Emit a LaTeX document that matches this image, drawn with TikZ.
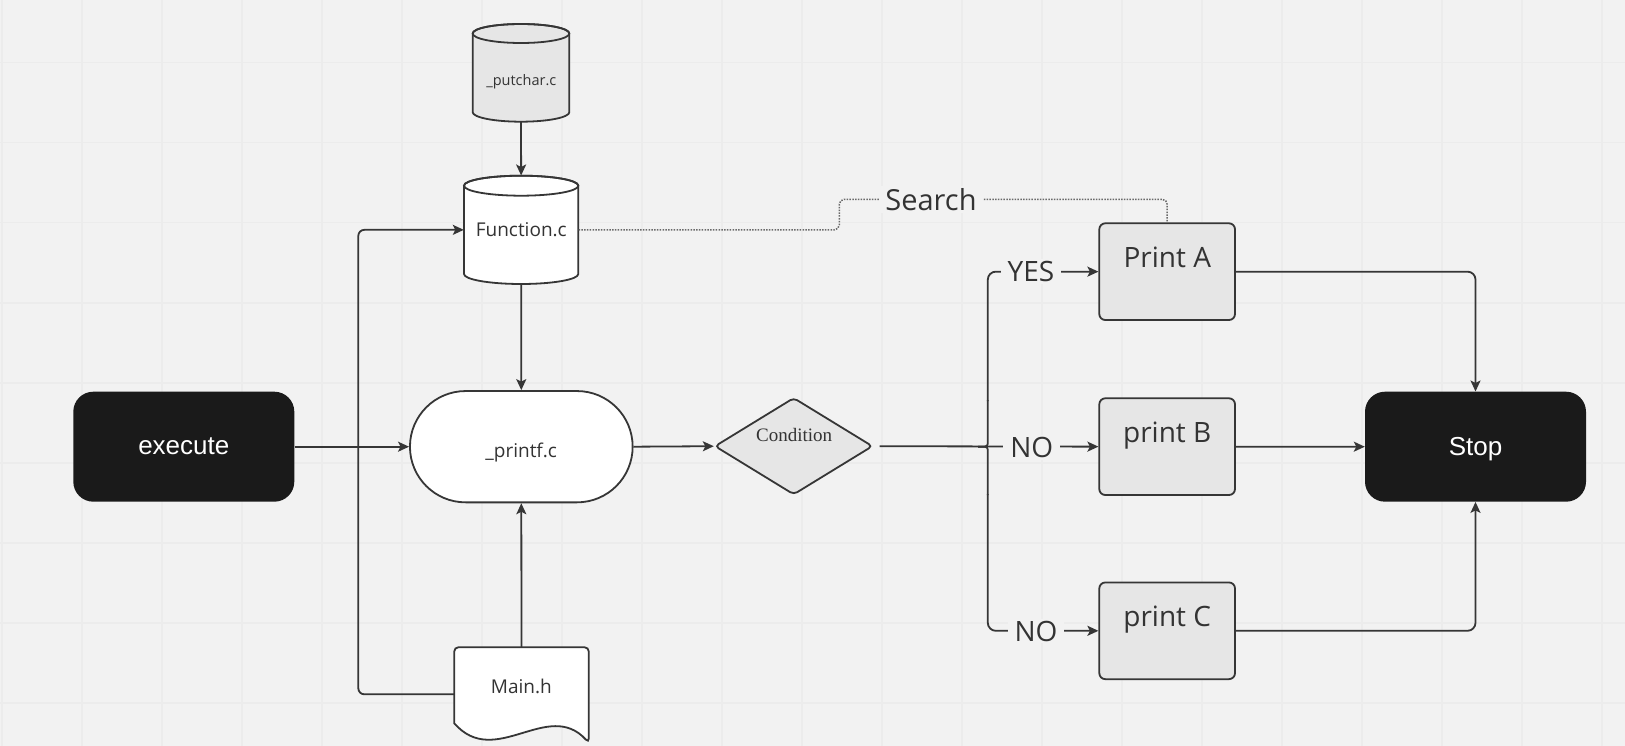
\documentclass[tikz,border=0pt]{standalone}
\usepackage{fontspec}
\setmainfont{Open Sans}
\newfontfamily\arialf{Liberation Sans}
\newfontfamily\timesf{Liberation Serif}
\usetikzlibrary{arrows.meta,shapes.geometric,shapes.misc,calc}
\definecolor{bg}{HTML}{F2F2F2}
\definecolor{gridc}{HTML}{ECECEC}
\definecolor{lc}{HTML}{363636}
\definecolor{boxf}{HTML}{E6E6E6}
\definecolor{blk}{HTML}{1A1A1A}
\definecolor{txt}{HTML}{333333}
\definecolor{dotc}{HTML}{6A6A6A}
\begin{document}
\begin{tikzpicture}[x=1pt,y=-1pt,
  conn/.style={draw=lc, line width=1.8pt, -{Stealth[length=11pt,width=10pt,inset=2.5pt]}},
  plainline/.style={draw=lc, line width=1.8pt},
  pbox/.style={draw=lc, fill=boxf, line width=1.8pt, rounded corners=6pt, minimum width=135.7pt, minimum height=96.7pt, inner sep=0pt},
  termbox/.style={fill=blk, rounded corners=20pt, minimum width=221pt, minimum height=110pt, inner sep=0pt},
  shapeline/.style={draw=lc, line width=1.8pt},
  anchorbox/.style={inner sep=0pt},
  whitetext/.style={anchor=base, text=white, inner sep=0pt, font={\arialf\fontsize{26pt}{30pt}\selectfont}},
  smalltext/.style={anchor=base, text=txt, inner sep=0pt, font={\fontsize{19pt}{23pt}\selectfont}},
  bigtext/.style={anchor=base, text=txt, inner sep=0pt, font={\fontsize{28pt}{32pt}\selectfont}},
  onlabel/.style={anchor=base, fill=bg, text=txt, inner xsep=7pt, inner ysep=2pt, font={\fontsize{28pt}{32pt}\selectfont}},
  dotline/.style={draw=dotc, line width=1.5pt, dash pattern=on 1.5pt off 1.3pt, rounded corners=5pt}
]
\useasboundingbox (0,0) rectangle (1625,746);
\fill[bg] (0,0) rectangle (1625,746);
\foreach \i in {0,...,20} \draw[gridc, line width=1.6pt] ({1.7+80*\i},0) -- ({1.7+80*\i},746);
\foreach \j in {0,...,8} \draw[gridc, line width=1.6pt] (0,{62.7+80*\j}) -- (1625,{62.7+80*\j});

% anchor nodes for hand-drawn shapes
\node[anchorbox, minimum width=96.6pt, minimum height=97.7pt] (putc) at (521,72.85) {};
\node[anchorbox, minimum width=114.3pt, minimum height=108.3pt] (func) at (521.15,229.85) {};
\node[anchorbox, minimum width=134.4pt, minimum height=95.4pt] (mainh) at (521.5,695) {};

% _putchar.c cylinder
\filldraw[shapeline, fill=boxf] (472.7,33.5) -- (472.7,112.2)
  arc[start angle=180,end angle=360,x radius=48.3pt,y radius=9.5pt] -- (569.3,33.5)
  arc[start angle=0,end angle=180,x radius=48.3pt,y radius=9.5pt] -- cycle;
\draw[shapeline] (521,33.5) ellipse[x radius=48.3pt, y radius=9.5pt];

% Function.c cylinder
\filldraw[shapeline, fill=white] (464,185.7) -- (464,274)
  arc[start angle=180,end angle=360,x radius=57.15pt,y radius=10pt] -- (578.3,185.7)
  arc[start angle=0,end angle=180,x radius=57.15pt,y radius=10pt] -- cycle;
\draw[shapeline] (521.15,185.7) ellipse[x radius=57.15pt, y radius=10pt];

% Main.h document
\filldraw[shapeline, fill=white] (454.3,723.3) [rounded corners=4pt] -- (454.3,647.3) -- (588.7,647.3) -- (588.7,742.7) [sharp corners]
  .. controls (548,698) and (495,770) .. (454.3,723.3) -- cycle;

% main nodes
\node[termbox] (exec) at (183.8,446.7) {};
\node[rounded rectangle, draw=lc, fill=white, line width=1.8pt, minimum width=222.7pt, minimum height=111.3pt, inner sep=0pt] (printf) at (521.3,446.7) {};
\node[diamond, aspect=1.633, draw=lc, fill=boxf, line width=1.8pt, rounded corners=4pt, minimum width=158pt, minimum height=97pt, inner sep=0pt] (cond) at (793.7,446.2) {};
\node[pbox] (pa) at (1167.15,271.65) {};
\node[pbox] (pb) at (1167.15,446.65) {};
\node[pbox] (pc) at (1167.15,630.8) {};
\node[termbox] (stop) at (1475.5,446.7) {};

% texts
\node[whitetext] (exect) at (183.8,454) {execute};
\node[whitetext] (stopt) at (1475.6,455) {Stop};
\node[smalltext] (printft) at (521.2,457.3) {\_printf.c};
\node[smalltext] (mainht) at (521.3,693.3) {Main.h};
\node[smalltext] (funct) at (521.3,236.7) {Function.c};
\node[smalltext, font={\fontsize{14.5pt}{17pt}\selectfont}] (putct) at (521.3,86) {\_putchar.c};
\node[smalltext, font={\timesf\fontsize{19pt}{23pt}\selectfont}] (condt) at (794.2,441) {Condition};
\node[bigtext] (pat) at (1167.3,267.3) {Print A};
\node[bigtext] (pbt) at (1167.2,442.7) {print B};
\node[bigtext] (pct) at (1167.2,626.7) {print C};

% connectors
\draw[conn] (putc.south) -- (func.north);
\draw[conn] (func.south) -- (printf.north);
\draw[conn] (mainh.north) -- (printf.south);
\draw[conn] (exec.east) -- (printf.west);
\draw[conn] (printf.east) -- (cond.west);
\draw[conn, rounded corners=6pt] ($(mainh.west)+(0,-0.7)$) -- (358.3,694.3) |- (func.west);
\coordinate (jn) at (987.8,446.65);
\coordinate (jnl) at (978,446.65);
\coordinate (jnu) at (987.8,400);
\coordinate (jnd) at (987.8,495);
\draw[conn, shorten <=6pt] (cond.east) -- (pb.west);
\draw[plainline, rounded corners=3pt] (jnl) -- (jn) -- (jnu);
\draw[plainline, rounded corners=3pt] (jnl) -- (jn) -- (jnd);
\draw[conn, rounded corners=8pt] ($(jnu)+(0,1)$) |- (pa.west);
\draw[conn, rounded corners=8pt] ($(jnd)+(0,-1)$) |- (pc.west);
\draw[conn, rounded corners=8pt] (pa.east) -| (stop.north);
\draw[conn] (pb.east) -- (stop.west);
\draw[conn, rounded corners=8pt] (pc.east) -| (stop.south);
\draw[dotline] (func.east) -| (839.3,199.3) -| (pa.north);

% labels on connectors
\node[onlabel] (yes) at (1031,281.7) {YES};
\node[onlabel] (nob) at (1031.7,457.3) {NO};
\node[onlabel] (noc) at (1036,641) {NO};
\node[onlabel, inner xsep=6pt, font={\fontsize{29pt}{33pt}\selectfont}] (search) at (931,210.5) {Search};
\end{tikzpicture}
\end{document}
